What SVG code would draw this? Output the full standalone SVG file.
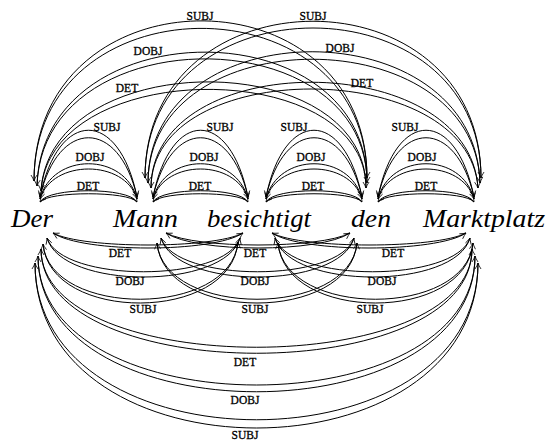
<svg xmlns="http://www.w3.org/2000/svg" width="548" height="442" viewBox="0 0 548 442">
<style>
.e{fill:none;stroke:#000;stroke-width:1;marker-end:url(#ah)}
.l{font-family:"Liberation Serif","DejaVu Serif",serif;font-size:11.5px;text-anchor:middle;fill:#000;stroke:#000;stroke-width:0.3}
.w{font-family:"Liberation Serif","DejaVu Serif",serif;font-style:italic;font-size:25px;fill:#000}
</style>
<defs>
<marker id="ah" viewBox="-7 -4 8 8" markerWidth="8" markerHeight="8" refX="0" refY="0" orient="auto" markerUnits="userSpaceOnUse">
<path d="M-6,-3 Q-2.5,-0.8 0,0 Q-2.5,0.8 -6,3" fill="none" stroke="#000" stroke-width="0.8"/>
</marker>
</defs>
<rect width="548" height="442" fill="#fff"/>
<g id="words">
<g id="w-der"><text class="w" x="11" y="227" textLength="42" lengthAdjust="spacingAndGlyphs">Der</text></g>
<g id="w-mann"><text class="w" x="113" y="227" textLength="65" lengthAdjust="spacingAndGlyphs">Mann</text></g>
<g id="w-besichtigt"><text class="w" x="207" y="227" textLength="104" lengthAdjust="spacingAndGlyphs">besichtigt</text></g>
<g id="w-den"><text class="w" x="351" y="227" textLength="40" lengthAdjust="spacingAndGlyphs">den</text></g>
<g id="w-marktplatz"><text class="w" x="423" y="227" textLength="122" lengthAdjust="spacingAndGlyphs">Marktplatz</text></g>
</g>
<g id="connectors">
<path class="e" d="M40,197 C58,108 119,108 137,197"/>
<path class="e" d="M137,197 C119,118 58,118 40,197"/>
<path class="e" d="M40,199 C52,152 125,152 137,199"/>
<path class="e" d="M137,199 C125,159 52,159 40,199"/>
<path class="e" d="M40,202 C48,187 129,187 137,202"/>
<path class="e" d="M137,202 C129,191 48,191 40,202"/>
<path class="e" d="M153,197 C171,108 230,108 248,197"/>
<path class="e" d="M248,197 C230,118 171,118 153,197"/>
<path class="e" d="M153,199 C165,152 236,152 248,199"/>
<path class="e" d="M248,199 C236,159 165,159 153,199"/>
<path class="e" d="M153,202 C161,187 240,187 248,202"/>
<path class="e" d="M248,202 C240,191 161,191 153,202"/>
<path class="e" d="M266,197 C284,108 344,108 362,197"/>
<path class="e" d="M362,197 C344,118 284,118 266,197"/>
<path class="e" d="M266,199 C278,152 350,152 362,199"/>
<path class="e" d="M362,199 C350,159 278,159 266,199"/>
<path class="e" d="M266,202 C274,187 354,187 362,202"/>
<path class="e" d="M362,202 C354,191 274,191 266,202"/>
<path class="e" d="M378,197 C396,108 456,108 474,197"/>
<path class="e" d="M474,197 C456,118 396,118 378,197"/>
<path class="e" d="M378,199 C390,152 462,152 474,199"/>
<path class="e" d="M474,199 C462,159 390,159 378,199"/>
<path class="e" d="M378,202 C386,187 466,187 474,202"/>
<path class="e" d="M474,202 C466,191 386,191 378,202"/>
<path class="e" d="M34,181 C34,-32 367,-32 367,178"/>
<path class="e" d="M367,178 C367,-22 34,-22 34,181"/>
<path class="e" d="M37,186 C42,8 367,8 367,183"/>
<path class="e" d="M367,183 C367,17 42,17 37,186"/>
<path class="e" d="M41,191 C50,46 366,46 366,188"/>
<path class="e" d="M366,188 C366,56 50,56 41,191"/>
<path class="e" d="M145,178 C145,-31 481,-31 481,178"/>
<path class="e" d="M481,178 C481,-22 145,-22 145,178"/>
<path class="e" d="M148,183 C148,8 475,8 480,183"/>
<path class="e" d="M480,183 C475,18 148,18 148,183"/>
<path class="e" d="M151,188 C151,47 469,47 478,188"/>
<path class="e" d="M478,188 C469,56 151,56 151,188"/>
<path class="e" d="M53,233 C83,253 213,253 243,233"/>
<path class="e" d="M243,233 C213,249 83,249 53,233"/>
<path class="e" d="M47,238 C62,290 225,290 240,238"/>
<path class="e" d="M240,238 C225,283 62,283 47,238"/>
<path class="e" d="M43,244 C50,323 231,323 238,242"/>
<path class="e" d="M238,242 C231,318 50,318 43,244"/>
<path class="e" d="M166,233 C196,253 320,253 350,233"/>
<path class="e" d="M350,233 C320,249 196,249 166,233"/>
<path class="e" d="M161,238 C176,290 339,290 354,238"/>
<path class="e" d="M354,238 C339,283 176,283 161,238"/>
<path class="e" d="M157,243 C164,323 350,323 357,243"/>
<path class="e" d="M357,243 C350,318 164,318 157,243"/>
<path class="e" d="M272,233 C302,253 436,253 466,233"/>
<path class="e" d="M466,233 C436,249 302,249 272,233"/>
<path class="e" d="M275,238 C290,290 455,290 470,238"/>
<path class="e" d="M470,238 C455,283 290,283 275,238"/>
<path class="e" d="M278,243 C285,323 466,323 473,243"/>
<path class="e" d="M473,243 C466,318 285,318 278,243"/>
<path class="e" d="M41,249 C41,388 472,388 472,249"/>
<path class="e" d="M472,249 C472,380 41,380 41,249"/>
<path class="e" d="M38,256 C38,437 475,437 475,256"/>
<path class="e" d="M475,256 C475,428 38,428 38,256"/>
<path class="e" d="M35,263 C35,483 478,483 478,263"/>
<path class="e" d="M478,263 C478,472 35,472 35,263"/>
<g id="labels">
<text class="l" x="107" y="131">SUBJ</text>
<text class="l" x="90" y="161">DOBJ</text>
<text class="l" x="88" y="190">DET</text>
<text class="l" x="220" y="131">SUBJ</text>
<text class="l" x="204" y="161">DOBJ</text>
<text class="l" x="200" y="190">DET</text>
<text class="l" x="294" y="131">SUBJ</text>
<text class="l" x="311" y="161">DOBJ</text>
<text class="l" x="313" y="190">DET</text>
<text class="l" x="405" y="131">SUBJ</text>
<text class="l" x="422" y="161">DOBJ</text>
<text class="l" x="426" y="190">DET</text>
<text class="l" x="200" y="20">SUBJ</text>
<text class="l" x="148" y="55">DOBJ</text>
<text class="l" x="127" y="92">DET</text>
<text class="l" x="313" y="20">SUBJ</text>
<text class="l" x="340" y="52">DOBJ</text>
<text class="l" x="362" y="87">DET</text>
<text class="l" x="120" y="257">DET</text>
<text class="l" x="130" y="285">DOBJ</text>
<text class="l" x="143" y="313">SUBJ</text>
<text class="l" x="255" y="257">DET</text>
<text class="l" x="255" y="285">DOBJ</text>
<text class="l" x="255" y="313">SUBJ</text>
<text class="l" x="393" y="257">DET</text>
<text class="l" x="382" y="285">DOBJ</text>
<text class="l" x="370" y="313">SUBJ</text>
<text class="l" x="245" y="366">DET</text>
<text class="l" x="245" y="404">DOBJ</text>
<text class="l" x="245" y="439">SUBJ</text>
</g>
</g>
</svg>
